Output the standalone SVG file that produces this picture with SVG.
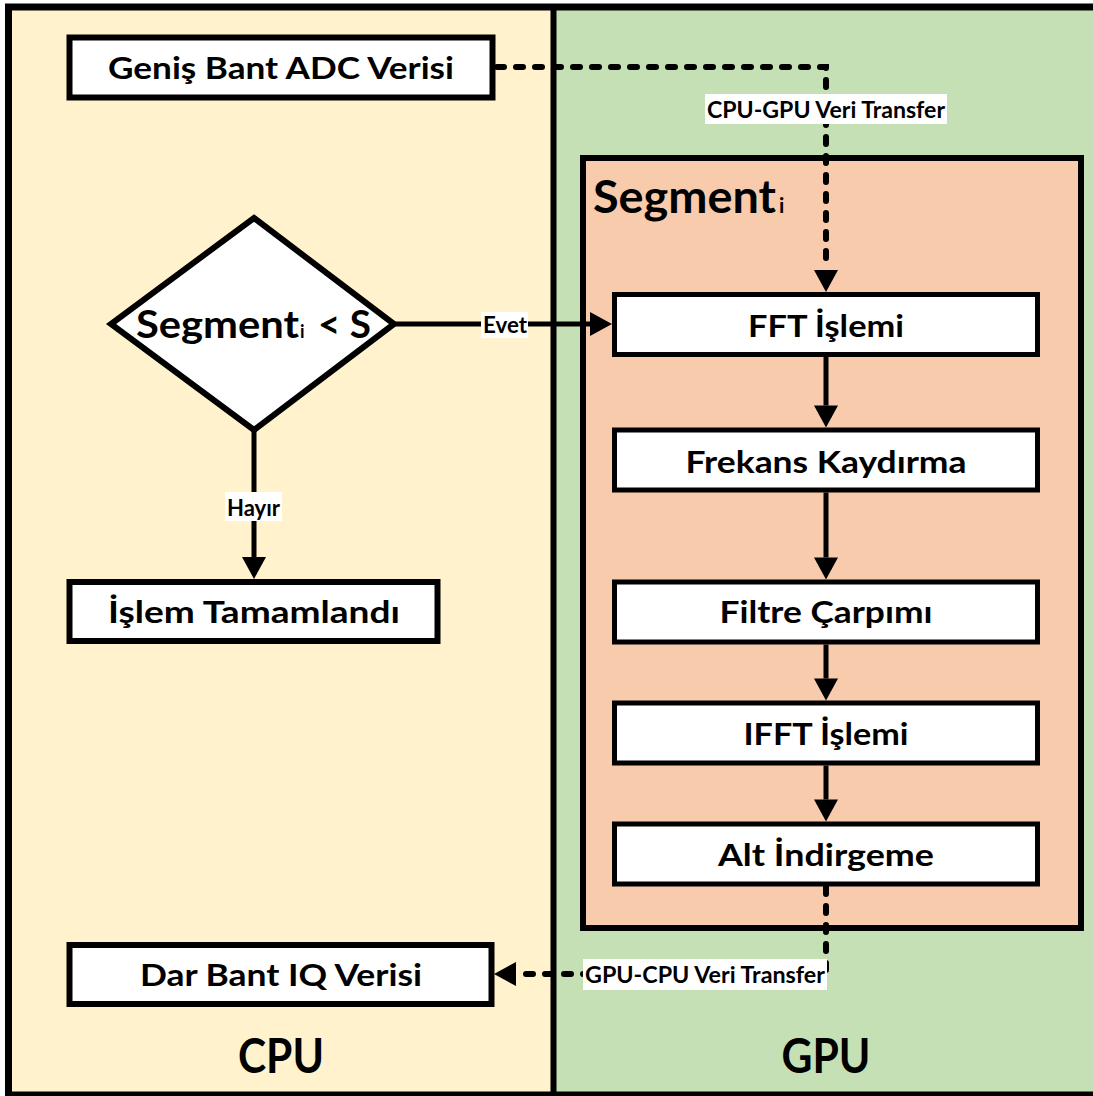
<svg xmlns="http://www.w3.org/2000/svg" width="1093" height="1096" viewBox="0 0 1093 1096">
  <style>
    text { font-family: Lato, "Open Sans", "Liberation Sans", sans-serif; font-weight: 700; fill: #000; }
    .box { fill: #fff; stroke: #000; stroke-width: 6; }
    .gbox { fill: #fff; stroke: #000; stroke-width: 5; }
    .t-box { font-size: 31px; text-anchor: middle; }
    .t-lbl { font-size: 23px; }
    .lbl-bg { fill: #fff; }
    .solid { fill: none; stroke: #000; stroke-width: 5; marker-end: url(#arrow); }
    .dotted { fill: none; stroke: #000; stroke-width: 6; stroke-linecap: round; stroke-dasharray: 7 12; marker-end: url(#arrow); }
  </style>
  <defs>
    <marker id="arrow" markerUnits="userSpaceOnUse" markerWidth="22" markerHeight="24" refX="0" refY="12" orient="auto" overflow="visible">
      <path d="M0,0 L22,12 L0,24 Z" fill="#000"/>
    </marker>
  </defs>

  <!-- swimlane backgrounds -->
  <g id="lanes">
    <rect x="8.5" y="7" width="545" height="1088" fill="#FFF2CC"/>
    <rect x="553.5" y="7" width="545" height="1088" fill="#C5E0B4"/>
    <rect x="8.5" y="7" width="1090" height="1088" fill="none" stroke="#000" stroke-width="7"/>
    <line x1="553.5" y1="7" x2="553.5" y2="1095" stroke="#000" stroke-width="6"/>
    <text x="281" y="1073" font-size="47" text-anchor="middle" textLength="86" lengthAdjust="spacingAndGlyphs">CPU</text>
    <text x="826" y="1073" font-size="47" text-anchor="middle" textLength="89" lengthAdjust="spacingAndGlyphs">GPU</text>
  </g>

  <!-- per-segment GPU container -->
  <g id="segment-group">
    <rect x="583" y="158" width="498" height="770" fill="#F8CBAD" stroke="#000" stroke-width="6"/>
    <text y="213"><tspan x="593" font-size="45" textLength="183" lengthAdjust="spacingAndGlyphs">Segment</tspan><tspan x="779" font-size="21">i</tspan></text>
  </g>

  <!-- CPU side nodes -->
  <g id="adc-input">
    <rect class="box" x="69.5" y="37.5" width="423" height="60"/>
    <text class="t-box" x="281" y="79" textLength="346" lengthAdjust="spacingAndGlyphs">Geniş Bant ADC Verisi</text>
  </g>
  <g id="segment-check">
    <polygon points="254,218 394,324 254,430 111,324" fill="#fff" stroke="#000" stroke-width="6"/>
    <text y="338"><tspan x="136" font-size="38" textLength="163" lengthAdjust="spacingAndGlyphs">Segment</tspan><tspan x="300" font-size="18">i</tspan><tspan x="318" font-size="38" textLength="53" lengthAdjust="spacingAndGlyphs">&lt; S</tspan></text>
  </g>
  <g id="done">
    <rect class="box" x="69.5" y="582" width="368" height="59"/>
    <text class="t-box" x="254" y="623" textLength="292" lengthAdjust="spacingAndGlyphs">İşlem Tamamlandı</text>
  </g>
  <g id="iq-output">
    <rect class="box" x="69.5" y="945" width="422" height="59"/>
    <text class="t-box" x="281" y="986" textLength="282" lengthAdjust="spacingAndGlyphs">Dar Bant IQ Verisi</text>
  </g>

  <!-- GPU processing nodes -->
  <g id="fft">
    <rect class="gbox" x="614.5" y="294.5" width="423" height="60"/>
    <text class="t-box" x="826" y="336.5" textLength="156" lengthAdjust="spacingAndGlyphs">FFT İşlemi</text>
  </g>
  <g id="freq-shift">
    <rect class="gbox" x="614.5" y="430" width="423" height="60"/>
    <text class="t-box" x="826" y="472.5" textLength="281" lengthAdjust="spacingAndGlyphs">Frekans Kaydırma</text>
  </g>
  <g id="filter">
    <rect class="gbox" x="614.5" y="582" width="423" height="60"/>
    <text class="t-box" x="826" y="623" textLength="213" lengthAdjust="spacingAndGlyphs">Filtre Çarpımı</text>
  </g>
  <g id="ifft">
    <rect class="gbox" x="614.5" y="703" width="423" height="60"/>
    <text class="t-box" x="826" y="745" textLength="165" lengthAdjust="spacingAndGlyphs">IFFT İşlemi</text>
  </g>
  <g id="decimate">
    <rect class="gbox" x="614.5" y="824" width="423" height="60"/>
    <text class="t-box" x="826" y="866" textLength="216" lengthAdjust="spacingAndGlyphs">Alt İndirgeme</text>
  </g>

  <!-- connectors -->
  <g id="connectors">
    <path class="dotted" d="M497,67 H826 V270"/>
    <path class="solid" d="M394,324 H590"/>
    <path class="solid" d="M254,430 V557"/>
    <path class="solid" d="M826,357 V405.5"/>
    <path class="solid" d="M826,492.5 V557.5"/>
    <path class="solid" d="M826,644.5 V678.5"/>
    <path class="solid" d="M826,765.5 V799.5"/>
    <path class="dotted" d="M826,887 V974 H516"/>

    <g id="label-cpu-gpu">
      <rect class="lbl-bg" x="705" y="94" width="242" height="30"/>
      <text class="t-lbl" x="707" y="117.5" textLength="238" lengthAdjust="spacingAndGlyphs">CPU-GPU Veri Transfer</text>
    </g>
    <g id="label-evet">
      <rect class="lbl-bg" x="481" y="312" width="47" height="26"/>
      <text class="t-lbl" x="483" y="332.5" textLength="44" lengthAdjust="spacingAndGlyphs">Evet</text>
    </g>
    <g id="label-hayir">
      <rect class="lbl-bg" x="225" y="492" width="57" height="29"/>
      <text class="t-lbl" x="227" y="515.5" textLength="53" lengthAdjust="spacingAndGlyphs">Hayır</text>
    </g>
    <g id="label-gpu-cpu">
      <rect class="lbl-bg" x="583" y="959" width="244" height="31"/>
      <text class="t-lbl" x="585" y="983" textLength="240" lengthAdjust="spacingAndGlyphs">GPU-CPU Veri Transfer</text>
    </g>
  </g>
</svg>
